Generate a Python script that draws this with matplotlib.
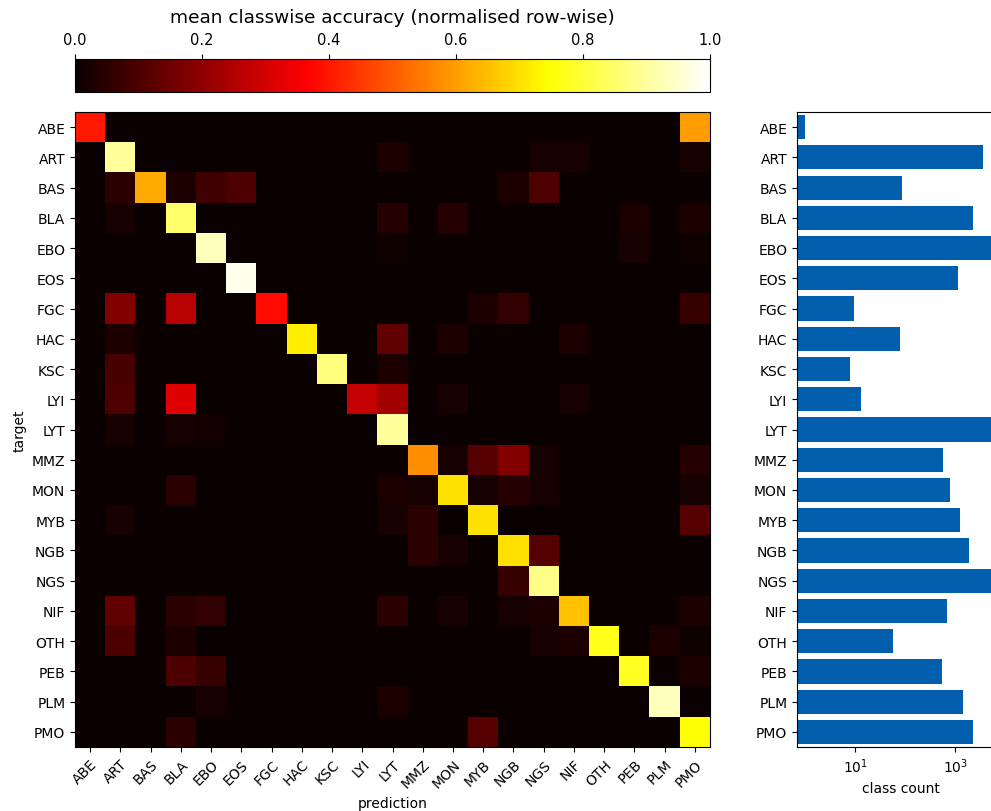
import numpy as np
import matplotlib
matplotlib.use("Agg")
import matplotlib.pyplot as plt

classes = ["ABE", "ART", "BAS", "BLA", "EBO", "EOS", "FGC", "HAC", "KSC", "LYI", "LYT",
           "MMZ", "MON", "MYB", "NGB", "NGS", "NIF", "OTH", "PEB", "PLM", "PMO"]

# diagonal of the row-normalised confusion matrix
diag = [0.40, 0.90, 0.62, 0.85, 0.93, 0.98, 0.38, 0.72, 0.87, 0.28, 0.90,
        0.575, 0.70, 0.70, 0.70, 0.88, 0.655, 0.77, 0.78, 0.93, 0.75]

# off-diagonal entries (target, prediction, value)
offdiag = [
    ("ABE", "PMO", 0.60),
    ("ART", "LYT", 0.03), ("ART", "NGS", 0.02), ("ART", "NIF", 0.02), ("ART", "PMO", 0.02),
    ("BAS", "ART", 0.05), ("BAS", "BLA", 0.03), ("BAS", "EBO", 0.08), ("BAS", "EOS", 0.10),
    ("BAS", "NGB", 0.03), ("BAS", "NGS", 0.10),
    ("BLA", "ART", 0.02), ("BLA", "LYT", 0.04), ("BLA", "MON", 0.04), ("BLA", "PEB", 0.03),
    ("BLA", "PMO", 0.03),
    ("EBO", "PEB", 0.02), ("EBO", "LYT", 0.01), ("EBO", "PMO", 0.01),
    ("FGC", "ART", 0.18), ("FGC", "BLA", 0.26), ("FGC", "MYB", 0.03), ("FGC", "NGB", 0.06),
    ("FGC", "PMO", 0.07),
    ("HAC", "ART", 0.03), ("HAC", "LYT", 0.13), ("HAC", "MON", 0.03), ("HAC", "NIF", 0.03),
    ("KSC", "ART", 0.09), ("KSC", "LYT", 0.03),
    ("LYI", "ART", 0.10), ("LYI", "BLA", 0.32), ("LYI", "LYT", 0.23), ("LYI", "MON", 0.02),
    ("LYI", "NIF", 0.02),
    ("LYT", "ART", 0.02), ("LYT", "BLA", 0.02), ("LYT", "EBO", 0.015),
    ("MMZ", "MON", 0.02), ("MMZ", "MYB", 0.11), ("MMZ", "NGB", 0.18), ("MMZ", "NGS", 0.02),
    ("MMZ", "PMO", 0.04),
    ("MON", "BLA", 0.05), ("MON", "LYT", 0.03), ("MON", "MMZ", 0.02), ("MON", "MYB", 0.02),
    ("MON", "NGB", 0.04), ("MON", "NGS", 0.02), ("MON", "PMO", 0.02),
    ("MYB", "ART", 0.02), ("MYB", "LYT", 0.02), ("MYB", "MMZ", 0.05), ("MYB", "PMO", 0.11),
    ("NGB", "MMZ", 0.05), ("NGB", "MON", 0.02), ("NGB", "NGS", 0.11),
    ("NGS", "NGB", 0.07),
    ("NIF", "ART", 0.13), ("NIF", "BLA", 0.05), ("NIF", "EBO", 0.06), ("NIF", "LYT", 0.05),
    ("NIF", "MON", 0.02), ("NIF", "NGB", 0.02), ("NIF", "NGS", 0.03), ("NIF", "PMO", 0.03),
    ("OTH", "ART", 0.10), ("OTH", "BLA", 0.03), ("OTH", "NGS", 0.02), ("OTH", "NIF", 0.03),
    ("OTH", "PLM", 0.03), ("OTH", "PMO", 0.01),
    ("PEB", "BLA", 0.10), ("PEB", "EBO", 0.07), ("PEB", "PMO", 0.03),
    ("PLM", "EBO", 0.02), ("PLM", "LYT", 0.03),
    ("PMO", "BLA", 0.05), ("PMO", "MYB", 0.11),
]

# number of samples per class
counts = [1, 3700, 87, 2300, 6000, 1170, 9.3, 79, 7.9, 13, 5200,
          585, 794, 1260, 1940, 6500, 680, 57, 540, 1470, 2320]

n = len(classes)
mat = np.diag(np.array(diag, dtype=float))
for t, p, v in offdiag:
    mat[classes.index(t), classes.index(p)] = v

fig = plt.figure(figsize=(9.91, 8.12), dpi=100)
W, H = 991, 812

def px_axes(x0, y0, x1, y1):
    return fig.add_axes([x0 / W, 1 - y1 / H, (x1 - x0) / W, (y1 - y0) / H])

ax = px_axes(75, 113, 710, 748)
cax = px_axes(75, 60, 710, 93)
bax = px_axes(797, 113, 1005, 748)  # right part is cut off by the figure edge

im = ax.imshow(mat, cmap="hot", vmin=0, vmax=1, aspect="auto", interpolation="nearest")
ax.set_xticks(range(n))
ax.set_xticklabels(classes, rotation=45, ha="right", rotation_mode="anchor", fontsize=10)
ax.set_yticks(range(n))
ax.set_yticklabels(classes, fontsize=10)
ax.set_xlabel("prediction", fontsize=10)
ax.set_ylabel("target", fontsize=10)

cb = fig.colorbar(im, cax=cax, orientation="horizontal")
cax.xaxis.set_ticks_position("top")
cax.xaxis.set_label_position("top")
cb.set_ticks([0.0, 0.2, 0.4, 0.6, 0.8, 1.0])
cax.tick_params(labelsize=10.5, pad=5)
cb.set_label("mean classwise accuracy (normalised row-wise)", fontsize=13.3, labelpad=7)

bax.barh(range(n), counts, height=0.8, color="#005eac")
bax.set_xscale("log")
bax.set_xlim(0.68, 1e4)
bax.set_ylim(n - 0.5, -0.5)
bax.set_yticks(range(n))
bax.set_yticklabels(classes, fontsize=10)
bax.set_xticks([10, 1000])
bax.xaxis.set_minor_locator(matplotlib.ticker.NullLocator())
bax.tick_params(labelsize=10)
bax.set_xlabel("class count", fontsize=10)

fig.savefig("out.png", dpi=100)
